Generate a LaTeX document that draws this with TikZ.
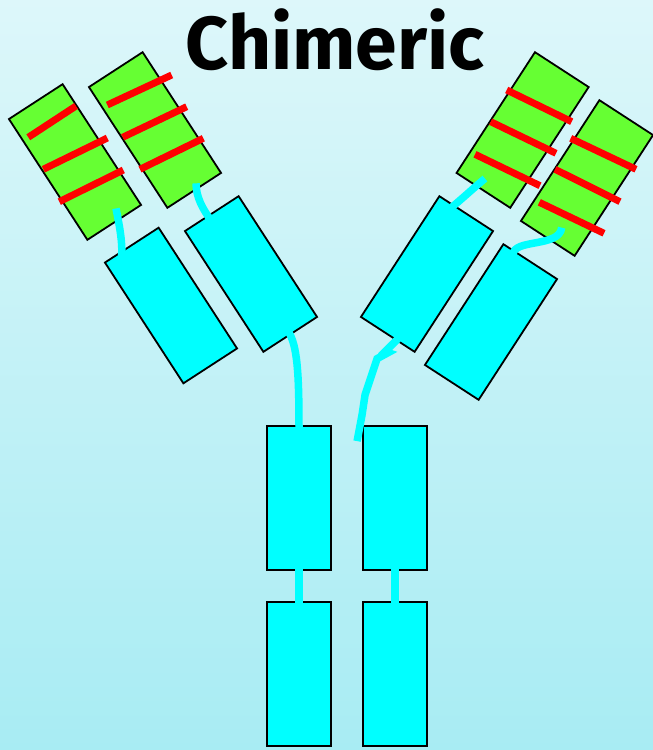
\documentclass[tikz,border=0pt]{standalone}
\usepackage{fontspec}
\usepackage{tikz}
\usetikzlibrary{calc}
\newfontfamily\titlefont{Fira Sans}
\definecolor{bgTop}{HTML}{DDF7FA}
\definecolor{bgBottom}{HTML}{A8ECF3}
\definecolor{constant}{HTML}{00FFFF}
\definecolor{variable}{HTML}{66FF33}
\definecolor{cdr}{HTML}{FF0000}

\begin{document}
\begin{tikzpicture}[x=1pt, y=-1pt]
  \tikzset{cbox/.style={draw=black, line width=1.8pt, fill=constant, minimum width=64pt, minimum height=144pt, inner sep=0pt},
    gbox/.style={cbox, fill=variable},
    linker/.style={draw=constant, line width=7.5pt},
    cdrline/.style={draw=cdr, line width=7pt}}
  \useasboundingbox (0,0) rectangle (653,750);
  \shade[top color=bgTop, bottom color=bgBottom] (0,0) rectangle (653,750);
  \node[font=\titlefont\bfseries\fontsize{75}{75}\selectfont] (title) at (335,40) {Chimeric};

  % Fc stem
  \node[cbox] (hl1) at (299,498) {};
  \node[cbox] (hl2) at (299,674) {};
  \node[cbox] (hr1) at (395,498) {};
  \node[cbox] (hr2) at (395,674) {};
  % left Fab arm
  \node[cbox, rotate=33] (lc1) at (171,305.5) {};
  \node[cbox, rotate=33] (lc2) at (251,274) {};
  \node[gbox, rotate=33] (lg1) at (75,162) {};
  \node[gbox, rotate=33] (lg2) at (155,130) {};
  % right Fab arm
  \node[cbox, rotate=-33] (rc1) at (427,274) {};
  \node[cbox, rotate=-33] (rc2) at (491,322) {};
  \node[gbox, rotate=-33] (rg1) at (522.6,130) {};
  \node[gbox, rotate=-33] (rg2) at (587,178) {};

  % linkers between domains
  \draw[linker] ($(lg1.south)!.3!(lg1.south east)!.08!(lg1.north)$)
    .. controls +(3,15) and +(1,-15) .. ($(lc1.north west)!.55!(lc1.north)!.03!(lc1.south)$);
  \draw[linker] ($(lg2.south)!.17!(lg2.south east)!.04!(lg2.north)$)
    .. controls +(0,14) and +(-7,-10) .. ($(lc2.north)!.14!(lc2.north west)!.03!(lc2.south)$);
  \draw[linker] ($(lc2.south)!.03!(lc2.north)$)
    .. controls +(9,14) and +(0,-55) .. ([yshift=-3pt]hl1.north);
  \draw[linker] ($(rg1.south)!.17!(rg1.south west)!.08!(rg1.north)$)
    .. controls +(-12,10) and +(10,-8) .. ($(rc1.north)!.5!(rc1.north west)!.03!(rc1.south)$);
  \draw[linker] ($(rg2.south)!.2!(rg2.south east)!.12!(rg2.north)$)
    .. controls +(-2,20) and +(0,-16) .. ($(rc2.north)!.57!(rc2.north west)!.03!(rc2.south)$);
  \coordinate (rtail) at ([xshift=-5pt,yshift=-16pt]hr1.north west);
  \draw[linker] ($(rc1.south)!.34!(rc1.south east)!.02!(rc1.north)$)
    -- ++(-13,13) -- ++(3,1) -- ++(-11,6) -- ++(-12,36) -- ++(-3,20) -- (rtail);
  \draw[linker] ([yshift=3pt]hl1.south) -- ([yshift=-3pt]hl2.north);
  \draw[linker] ([yshift=3pt]hr1.south) -- ([yshift=-3pt]hr2.north);

  % CDR loops
  \draw[cdrline] (28.3,137.3) -- (76,106) (43.3,169.3) -- (107.3,138) (59.3,201.7) -- (123.3,170);
  \draw[cdrline] (107.3,105) -- (171.7,75) (122.7,137.3) -- (186.7,106.7) (140,169.3) -- (203.3,138.3);
  \draw[cdrline] (506.7,90) -- (571.7,121.7) (490.7,121.7) -- (556,153.3) (475,154.3) -- (540,185.7);
  \draw[cdrline] (570.7,138.3) -- (636,169.3) (555,169.3) -- (620,201.7) (539.3,202.3) -- (604,233.3);
\end{tikzpicture}
\end{document}
